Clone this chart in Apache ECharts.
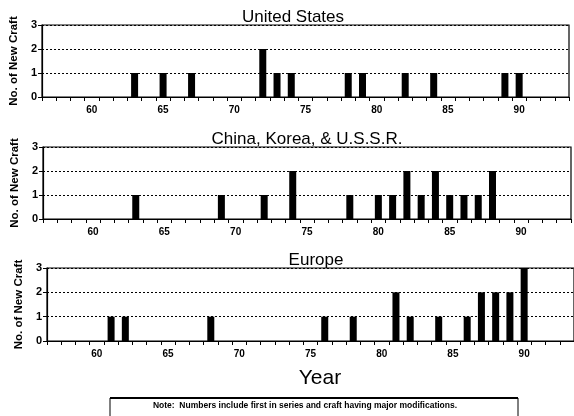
<!DOCTYPE html>
<html>
<head>
<meta charset="utf-8">
<script src="https://cdn.jsdelivr.net/npm/echarts@6/dist/echarts.min.js"></script>
<style>
html,body{margin:0;padding:0;background:#fff;}
#c{width:574px;height:416px;}
</style>
</head>
<body>
<div id="c"></div>
<script>
// ---- data ----
const years = ['57','58','59','60','61','62','63','64','65','66','67','68','69','70','71','72','73','74','75','76','77','78','79','80','81','82','83','84','85','86','87','88','89','90','91','92','93'];
const tickLabels = ['60','65','70','75','80','85','90'];
const yTickValues = [0, 1, 2, 3];

const panelTitles = ['United States', 'China, Korea, & U.S.S.R.', 'Europe'];

const usYears  = ['63','65','67','72','73','74','78','79','82','84','89','90'];
const usCounts = [1, 1, 1, 2, 1, 1, 1, 1, 1, 1, 1, 1];

const ckuYears  = ['63','69','72','74','78','80','81','82','83','84','85','86','87','88'];
const ckuCounts = [1, 1, 1, 2, 1, 1, 1, 2, 1, 2, 1, 1, 1, 2];

const euYears  = ['61','62','68','76','78','81','82','84','86','87','88','89','90'];
const euCounts = [1, 1, 1, 1, 1, 2, 1, 1, 1, 2, 2, 2, 3];

const yAxisName = 'No. of New Craft';
const xAxisTitle = 'Year';
const noteText = 'Note:  Numbers include first in series and craft having major modifications.';

// ---- chart ----
const FONT = '"Liberation Sans", Arial, Helvetica, sans-serif';
const panels = [
  {years: usYears, counts: usCounts, grid: {left: 39, top: 25, width: 530, height: 72}, titleX: 293, titleY: 26},
  {years: ckuYears, counts: ckuCounts, grid: {left: 43, top: 147, width: 528, height: 72}, titleX: 307, titleY: 148},
  {years: euYears, counts: euCounts, grid: {left: 47, top: 268, width: 528, height: 73}, titleX: 316, titleY: 269}
];

const chart = echarts.init(document.getElementById('c'), null, {renderer: 'canvas'});

const grids = [], xAxes = [], yAxes = [], series = [], graphics = [];
panels.forEach((p, i) => {
  grids.push(Object.assign({show: true, borderColor: '#000', borderWidth: 1.2, containLabel: false}, p.grid));
  xAxes.push({
    type: 'category', gridIndex: i, data: years, boundaryGap: true,
    axisLine: {show: true, lineStyle: {color: '#000', width: 1.2}},
    axisTick: {show: true, interval: 0, length: 4, lineStyle: {color: '#000', width: 1}},
    axisLabel: {interval: 0, formatter: v => tickLabels.indexOf(v) >= 0 ? v : '',
      fontSize: 10, fontWeight: 'bold', color: '#000', fontFamily: FONT, margin: 8},
    splitLine: {show: false}
  });
  yAxes.push({
    type: 'value', gridIndex: i, min: yTickValues[0], max: yTickValues[yTickValues.length - 1], interval: 1,
    axisLine: {show: true, lineStyle: {color: '#000', width: 1.2}},
    axisTick: {show: true, length: 4, lineStyle: {color: '#000'}},
    axisLabel: {fontSize: 11, fontWeight: 'bold', color: '#000', fontFamily: FONT, margin: 5},
    splitLine: {show: true, lineStyle: {type: [2, 2], color: '#000', width: 1}},
    name: yAxisName, nameLocation: 'middle', nameRotate: 90, nameGap: 15,
    nameTextStyle: {fontSize: 11.5, fontWeight: 'bold', color: '#000', fontFamily: FONT}
  });
  series.push({
    type: 'bar', xAxisIndex: i, yAxisIndex: i, barWidth: 7,
    itemStyle: {color: '#000'},
    data: p.years.map((y, k) => [y, p.counts[k]]),
    silent: true
  });
  graphics.push({
    type: 'text', x: p.titleX, y: p.titleY,
    style: {text: panelTitles[i], fill: '#000', font: '17px ' + FONT,
      align: 'center', verticalAlign: 'bottom', textAlign: 'center', textVerticalAlign: 'bottom'}
  });
});

graphics.push({
  type: 'text', x: 320, y: 378,
  style: {text: xAxisTitle, fill: '#000', font: '21px ' + FONT,
    align: 'center', verticalAlign: 'middle', textAlign: 'center', textVerticalAlign: 'middle'}
});
graphics.push({
  type: 'rect', shape: {x: 110, y: 398, width: 408, height: 24},
  style: {fill: 'none', stroke: '#000', lineWidth: 1}
});
graphics.push({
  type: 'line', shape: {x1: 110, y1: 398, x2: 518, y2: 398},
  style: {stroke: '#000', lineWidth: 2}
});
graphics.push({
  type: 'text', x: 305, y: 406,
  style: {text: noteText, fill: '#000', font: 'bold 8.5px ' + FONT,
    align: 'center', verticalAlign: 'middle', textAlign: 'center', textVerticalAlign: 'middle'}
});

chart.setOption({
  animation: false,
  backgroundColor: '#fff',
  grid: grids,
  xAxis: xAxes,
  yAxis: yAxes,
  series: series,
  graphic: graphics
});
</script>
</body>
</html>
